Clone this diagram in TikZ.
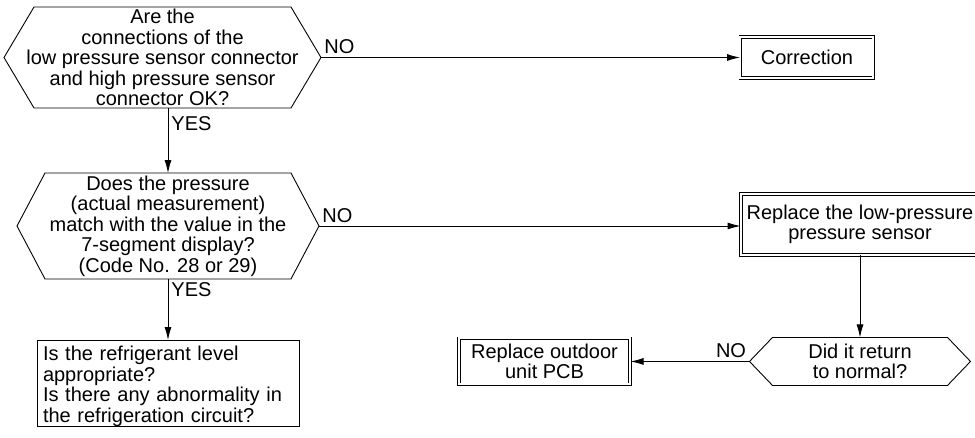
\documentclass[tikz,border=0pt]{standalone}
\usepackage{fontspec}
\setmainfont{Liberation Sans}
\usetikzlibrary{arrows.meta,positioning}

% outline of a decision node: pointed at west and east
\newcommand{\hexoutline}[2]{%
    \draw ([xshift=#2]#1.north west) -- ([xshift=-#2]#1.north east) -- (#1.east)
        -- ([xshift=-#2]#1.south east) -- ([xshift=#2]#1.south west) -- (#1.west) -- cycle;}

\begin{document}
\begin{tikzpicture}[x=1pt, y=-1pt,
        font=\fontsize{20}{20.5}\selectfont,
        line width=0.9pt,
        decision/.style={rectangle, align=center, inner sep=0pt, outer sep=0pt},
        box/.style={rectangle, draw, align=center, inner sep=5pt},
        dbox/.style={box, double, double distance=2pt, inner sep=4pt},
        arrow/.style={-{Latex[length=13pt,width=7pt]}},
        lbl/.style={inner sep=3pt}
    ]
        \useasboundingbox (0,0) rectangle (975,437);

        \node[decision, minimum width=317pt, minimum height=101pt] (conn) at (162.5,57.5)
            {Are the\\connections of the\\low pressure sensor connector\\and high pressure sensor\\connector OK?};
        \node[decision, minimum width=302pt, minimum height=106pt, below=65pt of conn, xshift=5.5pt] (press)
            {Does the pressure\\(actual measurement)\\match with the value in the\\7-segment display?\\(Code No. 28 or 29)};
        \node[box, align=left, text width=250pt, text depth=60pt, inner sep=6pt, below=61pt of press] (refrig)
            {Is the refrigerant level\\appropriate?\\Is there any abnormality in\\the refrigeration circuit?};

        \node[dbox, minimum width=133pt, minimum height=41pt, right=419pt of conn] (correct) {Correction};
        \node[dbox, minimum width=238pt, minimum height=61pt] (sensor) at (860,224.5)
            {Replace the low-pressure\\pressure sensor};
        \node[decision, minimum width=221pt, minimum height=48pt, below=82pt of sensor] (normal)
            {Did it return\\to normal?};
        \node[dbox, minimum width=171pt, minimum height=46pt, left=119pt of normal] (pcb)
            {Replace outdoor\\unit PCB};

        \hexoutline{conn}{30pt}
        \hexoutline{press}{28pt}
        \hexoutline{normal}{23pt}

        \draw[arrow] (conn.east) -- node[pos=0, above right, lbl] {NO} (correct.west);
        \draw[arrow] (conn.south -| press.north) -- node[pos=0, below right, lbl, yshift=-5pt] {YES} (press.north);
        \draw[arrow] (press.east) -- node[pos=0, above right, lbl] {NO} (press.east -| sensor.west);
        \draw[arrow] (press.south) -- node[pos=0, below right, lbl] {YES} (refrig.north);
        \draw[arrow] (sensor.south) -- (normal.north);
        \draw[arrow] (normal.west) -- node[pos=0, above left, lbl] {NO} (pcb.east);
    \end{tikzpicture}
\end{document}
